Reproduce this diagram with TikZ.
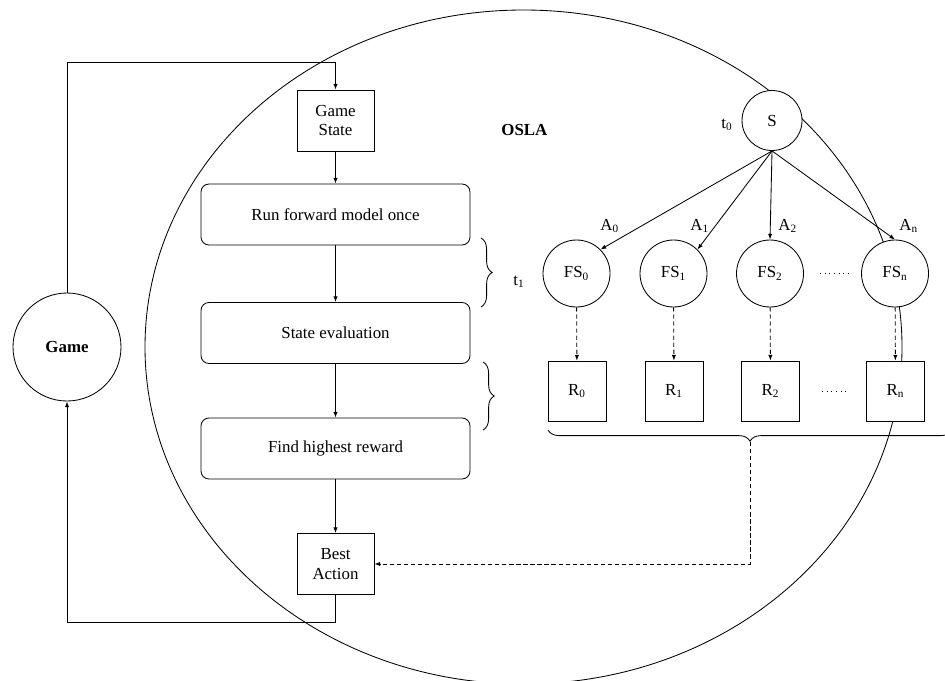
\documentclass[tikz,border=0pt]{standalone}
\usepackage{fontspec}
\setmainfont{Liberation Serif}
\usetikzlibrary{arrows.meta,decorations.pathreplacing}

\tikzset{
    gamebox/.style={draw, fill=white, minimum width=1.925cm, minimum height=1.525cm, inner sep=0pt, align=center},
    stagebox/.style={draw, fill=white, rounded corners=0.2cm, minimum width=6.725cm, minimum height=1.525cm, inner sep=0pt},
    fsnode/.style={draw, circle, fill=white, minimum size=1.675cm, inner sep=0pt},
    rbox/.style={draw, fill=white, minimum width=1.45cm, minimum height=1.5cm, inner sep=0pt},
    flow/.style={-{Latex[length=4pt,width=3pt]}},
    dflow/.style={flow, dash pattern=on 3pt off 2pt},
    lbl/.style={anchor=base west, inner sep=0pt},
    bracket/.style={decorate, decoration={brace, amplitude=0.28cm}}
}

\begin{document}
\begin{tikzpicture}[line width=0.6pt, font=\fontsize{12}{14}\selectfont]
                \useasboundingbox (0, 0) rectangle (23.625, -17);

                \draw(13.0875, -8.675) ellipse [x radius = 9.4625, y radius = 8.425];

                \node[draw, circle, fill=white, minimum size=2.7cm, inner sep=0pt, font=\fontsize{12}{14}\selectfont\bfseries] (game) at (1.675, -8.675) {Game};

                \node[gamebox] (gs) at (8.3875, -3.0125) {Game\\State};
                \node[stagebox] (run) at (8.3875, -5.3625) {Run forward model once};
                \node[stagebox] (eval) at (8.3875, -8.325) {State evaluation};
                \node[stagebox] (find) at (8.3875, -11.2125) {Find highest reward};
                \node[gamebox] (best) at (8.3875, -14.1) {Best\\Action};

                \draw[flow](game.north) |- ([yshift=0.675cm]gs.north) -- (gs.north);
                \draw[flow](gs) -- (run);
                \draw[flow](run) -- (eval);
                \draw[flow](eval) -- (find);
                \draw[flow](find) -- (best);
                \draw[flow](best.south) -- ++(0, -0.675) -| (game.south);

                \node[lbl, font=\fontsize{12}{14}\selectfont\bfseries] (osla) at (12.525, -3.375) {OSLA};

                \node[fsnode, minimum size=1.5cm] (s) at (19.3, -3.0125) {S};
                \node[lbl] (t0) at (18.025, -3.2) {t\textsubscript{0}};
                \node[lbl] (t1) at (12.825, -7.125) {t\textsubscript{1}};

                \node[fsnode] (fs0) at (14.4125, -6.8375) {FS\textsubscript{0}};
                \node[fsnode] (fs1) at (16.8375, -6.8375) {FS\textsubscript{1}};
                \node[fsnode] (fs2) at (19.25, -6.8375) {FS\textsubscript{2}};
                \node[fsnode] (fsn) at (22.375, -6.8375) {FS\textsubscript{n}};
                    \draw[dash pattern=on 0.7pt off 2.6pt](20.5, -6.83) to (21.2, -6.83);

                \draw[flow](s.south) to (fs0.north east);
                \draw[flow](s.south) to (fs1.north east);
                \draw[flow](s.south) to (fs2.north);
                \draw[flow](s.south) to (fsn.north);

                \node[lbl] (a0) at (15.0, -5.75) {A\textsubscript{0}};
                \node[lbl] (a1) at (17.25, -5.75) {A\textsubscript{1}};
                \node[lbl] (a2) at (19.45, -5.75) {A\textsubscript{2}};
                \node[lbl] (an) at (22.475, -5.75) {A\textsubscript{n}};

                \node[rbox] (r0) at (14.425, -9.775) {R\textsubscript{0}};
                \node[rbox] (r1) at (16.85, -9.775) {R\textsubscript{1}};
                \node[rbox] (r2) at (19.2625, -9.775) {R\textsubscript{2}};
                \node[rbox] (rn) at (22.3875, -9.775) {R\textsubscript{n}};
                    \draw[dash pattern=on 0.7pt off 2.6pt](20.55, -9.775) to (21.15, -9.775);

                \draw[dflow](fs0) to (r0);
                \draw[dflow](fs1) to (r1);
                \draw[dflow](fs2) to (r2);
                \draw[dflow](fsn) to (rn);

                \draw[bracket](12.025, -5.95) to (12.025, -7.675);
                \draw[bracket](12.075, -9.05) to (12.075, -10.75);

                \draw[bracket](23.8, -10.75) to (13.7, -10.75);
                \coordinate (sumtip) at (18.75, -11.05);
                \draw[dflow](sumtip) |- (best.east);
\end{tikzpicture}
\end{document}
